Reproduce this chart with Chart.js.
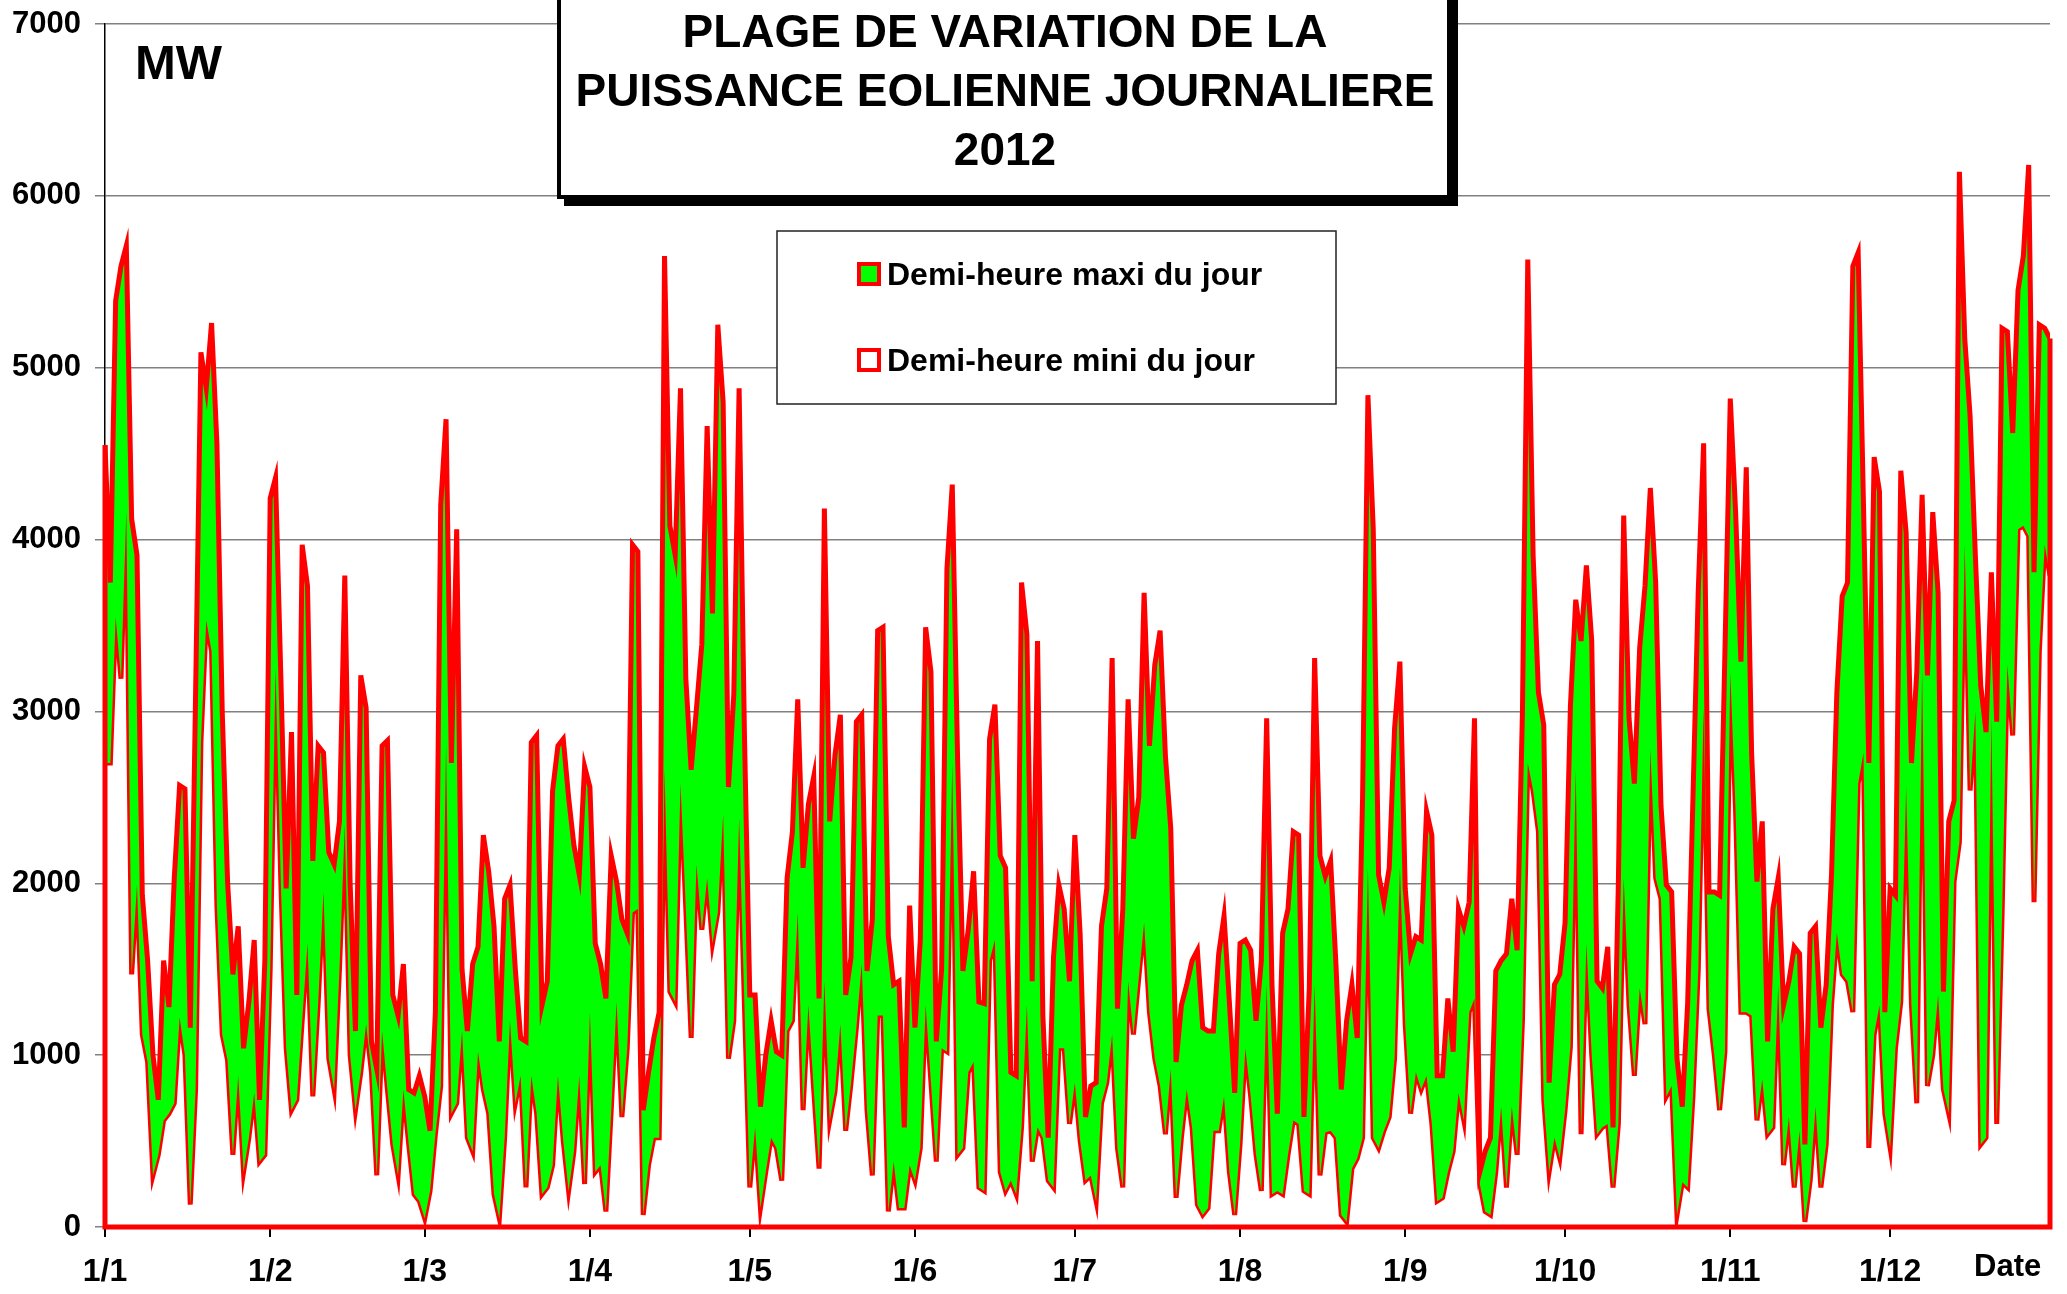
<!DOCTYPE html>
<html>
<head>
<meta charset="utf-8">
<script src="https://cdn.jsdelivr.net/npm/chart.js@4/dist/chart.umd.min.js"></script>
<style>
body { margin: 0; background: #fff; }
canvas { display: block; }
</style>
</head>
<body>
<canvas id="chart" width="2067" height="1294"></canvas>
<script>
// daily max / min half-hour wind power, MW, one value per day of 2012
let maxDay = [
  4550, 3750, 5390, 5590, 5710, 4120, 3910, 1930, 1550, 1000, 740, 1550, 1280, 2030, 2570, 2550, 1160, 3100, 5090, 4880,
  5260, 4560, 3000, 2010, 1470, 1750, 1040, 1310, 1670, 740, 1550, 4240, 4360, 3200, 1970, 2880, 1350, 3970, 3730, 2130,
  2800, 2760, 2180, 2110, 2360, 3790,
  2000, 1140, 3210, 3020, 1080, 920, 2800, 2830, 1350, 1230, 1530, 800, 780, 880, 760, 560, 1250, 4200, 4700, 2700,
  4060, 1500, 1140, 1530, 1630, 2280, 2070, 1750, 1080, 1910, 1990, 1500, 1100, 1080, 2820, 2860, 1290, 1430, 2540, 2800,
  2840, 2500, 2220, 2050, 2680, 2560,
  1650, 1530, 1330, 2160, 2010, 1790, 1710, 3970, 3930, 680, 900, 1100, 1250, 5650, 4080, 3910, 4880, 3190, 2660, 3020,
  3390, 4660, 3570, 5250, 4800, 2560, 3100, 4880, 2860, 1350, 1350, 700, 1000, 1200, 1020, 1000, 2030, 2300, 3070, 2090,
  2460, 2620, 1330, 4180, 2360, 2750,
  2980, 1350, 1570, 2940, 2980, 1490, 1790, 3470, 3490, 1690, 1410, 1430, 580, 1870, 1160, 1670, 3490, 3230, 1080, 1500,
  3830, 4320, 2720, 1490, 1730, 2070, 1310, 1300, 2840, 3040, 2160, 2090, 900, 880, 3750, 3450, 1430, 3410, 1230, 520,
  1570, 1990, 1850, 1430, 2280, 1700,
  640, 820, 840, 1750, 1970, 3310, 1270, 1850, 3070, 2260, 2500, 3690, 2800, 3270, 3470, 2740, 2320, 960, 1290, 1410,
  1550, 1610, 1160, 1140, 1140, 1590, 1810, 1310, 780, 1650, 1670, 1610, 1200, 1550, 2960, 1410, 660, 1710, 1850, 2300,
  2280, 640, 1390, 3310, 2160, 2040,
  2130, 1530, 800, 1200, 1410, 1100, 2500, 4840, 4060, 2050, 1890, 2090, 2900, 3290, 1970, 1590, 1690, 1670, 2420, 2280,
  880, 880, 1330, 1020, 1850, 1750, 1890, 2960, 320, 440, 520, 1490, 1550, 1590, 1910, 1610, 3000, 5630, 3910, 3110,
  2920, 840, 1410, 1470, 1770, 3030,
  3650, 3410, 3850, 3410, 1430, 1390, 1630, 580, 2000, 4140, 2960, 2580, 3370, 3730, 4300, 3750, 2450, 1990, 1950, 980,
  700, 1300, 2500, 3710, 4560, 1950, 1950, 1930, 3350, 4820, 4160, 3290, 4420, 2760, 2010, 2360, 1080, 1850, 2030, 1290,
  1430, 1630, 1590, 480, 1710, 1750,
  1160, 1410, 2050, 3110, 3670, 3750, 5590, 5670, 4200, 2700, 4480, 4280, 1250, 1970, 1930, 4400, 4040, 2700, 3230, 4260,
  3210, 4160, 3690, 1370, 2360, 2480, 6140, 5170, 4720, 3900, 3150, 2880, 3810, 2940, 5230, 5210, 4620, 5450, 5650, 6180,
  3810, 5250, 5230, 5170
];
let minDay = [
  2700, 2700, 3550, 3190, 4160, 1470, 1990, 1120, 960, 300, 420, 620, 660, 720, 1220, 1000, 130, 800, 2820, 3530,
  3350, 1870, 1120, 970, 420, 880, 320, 520, 780, 380, 420, 1500, 3250, 2000, 1040, 680, 740, 1200, 1650, 760,
  1300, 1950, 980, 800, 1500, 2340,
  1000, 680, 900, 1180, 900, 300, 1140, 800, 480, 300, 800, 480, 190, 150, 50, 210, 540, 820, 2800, 660,
  720, 1140, 520, 440, 1020, 800, 660, 190, 50, 520, 1200, 720, 880, 230, 880, 660, 190, 230, 360, 880,
  500, 210, 440, 880, 250, 1250,
  320, 360, 90, 680, 1310, 640, 1040, 1830, 1850, 70, 360, 520, 520, 2660, 1370, 1310, 2580, 1850, 1100, 2110,
  1730, 2030, 1650, 1830, 2400, 980, 1200, 2380, 1290, 230, 580, 110, 320, 520, 460, 270, 1140, 1200, 1830, 680,
  1290, 800, 340, 1430, 620, 790,
  1180, 560, 840, 1160, 1530, 680, 300, 1230, 1230, 90, 380, 110, 110, 360, 270, 460, 1290, 840, 380, 1040,
  1020, 2700, 420, 460, 900, 960, 230, 210, 1550, 1670, 320, 210, 270, 190, 580, 1290, 380, 580, 520, 270,
  230, 1040, 1040, 600, 840, 500,
  270, 300, 150, 720, 840, 1120, 460, 230, 1430, 1120, 1450, 1770, 1250, 980, 820, 540, 920, 170, 520, 800,
  580, 130, 70, 110, 560, 560, 760, 320, 70, 480, 1040, 760, 420, 210, 1410, 190, 210, 190, 420, 620,
  600, 210, 190, 1410, 300, 550,
  560, 520, 70, 30, 340, 400, 520, 2090, 520, 460, 560, 640, 980, 2090, 1180, 660, 900, 800, 880, 600,
  150, 170, 320, 440, 780, 620, 1250, 1330, 250, 90, 70, 320, 700, 230, 700, 420, 1200, 2700, 2540, 2300,
  740, 320, 520, 400, 680, 1050,
  2660, 540, 1650, 1000, 540, 580, 600, 230, 600, 2030, 1290, 880, 1390, 1180, 2780, 2030, 1910, 760, 820, 70,
  260, 230, 760, 1500, 3020, 1270, 1000, 680, 1020, 3230, 2420, 1250, 1250, 1230, 620, 860, 540, 580, 1410, 360,
  640, 230, 560, 30, 270, 700,
  230, 480, 1290, 1710, 1470, 1430, 1250, 2580, 2760, 460, 1120, 1290, 660, 460, 1040, 1310, 2560, 1290, 720, 3250,
  820, 1000, 1350, 800, 660, 2010, 2240, 3970, 2540, 3000, 480, 520, 2960, 600, 1810, 3270, 2860, 4060, 4080, 4020,
  1890, 3350, 3970, 3790
];
let monthStarts = [0, 31, 60, 91, 121, 152, 182, 213, 244, 274, 305, 335];
let monthLabels = ['1/1', '1/2', '1/3', '1/4', '1/5', '1/6', '1/7', '1/8', '1/9', '1/10', '1/11', '1/12'];
let titleLines = ['PLAGE DE VARIATION DE LA', 'PUISSANCE EOLIENNE JOURNALIERE', '2012'];
let seriesNames = ['Demi-heure maxi du jour', 'Demi-heure mini du jour'];
let unitLabel = 'MW';
let axisName = 'Date';

let font = '"Liberation Sans", Arial, Helvetica, sans-serif';
let last = maxDay.length - 1;

let decor = {
  id: 'decor',
  afterDatasetsDraw(chart) {
    // area outline down to the axis, like the original area chart
    let ctx = chart.ctx;
    let x = chart.scales.x, y = chart.scales.y;
    ctx.save();
    ctx.strokeStyle = '#ff0000';
    ctx.lineWidth = 5;
    ctx.beginPath();
    ctx.moveTo(x.getPixelForValue(0), y.getPixelForValue(maxDay[0]));
    ctx.lineTo(x.getPixelForValue(0), y.getPixelForValue(0));
    ctx.lineTo(x.getPixelForValue(last), y.getPixelForValue(0));
    ctx.lineTo(x.getPixelForValue(last), y.getPixelForValue(maxDay[last]));
    ctx.stroke();
    ctx.restore();
  },
  afterDraw(chart) {
    let ctx = chart.ctx;
    ctx.save();

    // title box with shadow
    ctx.fillStyle = '#000';
    ctx.fillRect(564, -10, 1458 - 564, 206 + 10);
    ctx.fillStyle = '#fff';
    ctx.fillRect(557, -10, 1451 - 557, 199 + 10);
    ctx.strokeStyle = '#000';
    ctx.lineWidth = 4;
    ctx.strokeRect(559, -10, 1449 - 559, 197 + 10);
    ctx.fillStyle = '#000';
    ctx.textAlign = 'center';
    ctx.textBaseline = 'alphabetic';
    ctx.font = 'bold 46px ' + font;
    titleLines.forEach((t, i) => ctx.fillText(t, 1005, 47 + i * 59));

    // unit and axis name
    ctx.textAlign = 'left';
    ctx.font = 'bold 49px ' + font;
    ctx.fillText(unitLabel, 135, 79);
    ctx.font = 'bold 31px ' + font;
    ctx.fillText(axisName, 1974, 1276);

    // legend
    ctx.fillStyle = '#fff';
    ctx.fillRect(777, 231, 1336 - 777, 404 - 231);
    ctx.strokeStyle = '#222';
    ctx.lineWidth = 1.5;
    ctx.strokeRect(777, 231, 1336 - 777, 404 - 231);
    let fills = ['#00ff00', '#ffffff'];
    let rows = [264, 350];
    ctx.font = 'bold 32px ' + font;
    seriesNames.forEach((name, i) => {
      ctx.fillStyle = fills[i];
      ctx.fillRect(859, rows[i], 20, 20);
      ctx.strokeStyle = '#ff0000';
      ctx.lineWidth = 4;
      ctx.strokeRect(859, rows[i], 20, 20);
      ctx.fillStyle = '#000';
      ctx.fillText(name, 887, rows[i] + 21);
    });
    ctx.restore();
  }
};

new Chart(document.getElementById('chart'), {
  type: 'line',
  data: {
    datasets: [
      {
        label: seriesNames[0],
        data: maxDay.map((v, i) => ({ x: i, y: v })),
        borderColor: '#ff0000',
        borderWidth: 5,
        backgroundColor: '#00ff00',
        fill: '+1'
      },
      {
        label: seriesNames[1],
        data: minDay.map((v, i) => ({ x: i, y: v })),
        borderColor: '#ff0000',
        borderWidth: 5,
        backgroundColor: '#ffffff',
        fill: 'origin'
      }
    ]
  },
  options: {
    responsive: false,
    animation: false,
    devicePixelRatio: 1,
    layout: { padding: { top: 24, right: 17, left: 0, bottom: 0 }, autoPadding: false },
    plugins: { legend: { display: false }, tooltip: { enabled: false } },
    elements: { point: { radius: 0 }, line: { tension: 0 } },
    scales: {
      x: {
        type: 'linear',
        min: 0,
        max: last,
        afterBuildTicks: axis => { axis.ticks = monthStarts.map(v => ({ value: v })); },
        afterFit: axis => { axis.height = 67; axis.paddingLeft = 0; axis.paddingRight = 0; },
        grid: { drawOnChartArea: false, tickLength: 10, tickColor: '#000', lineWidth: 2 },
        border: { color: '#000', width: 1 },
        ticks: {
          autoSkip: false,
          maxRotation: 0,
          padding: 16,
          color: '#000',
          font: { family: font, size: 32, weight: 'bold' },
          callback: (v, i) => monthLabels[i]
        }
      },
      y: {
        min: 0,
        max: 7000,
        afterFit: axis => { axis.width = 105; axis.paddingTop = 0; axis.paddingBottom = 0; },
        grid: { color: '#808080', lineWidth: 1.5, tickLength: 10 },
        border: { color: '#000', width: 1.5 },
        ticks: {
          stepSize: 1000,
          padding: 14,
          color: '#000',
          font: { family: font, size: 31, weight: 'bold' },
          callback: v => String(v)
        }
      }
    }
  },
  plugins: [decor]
});
</script>
</body>
</html>
